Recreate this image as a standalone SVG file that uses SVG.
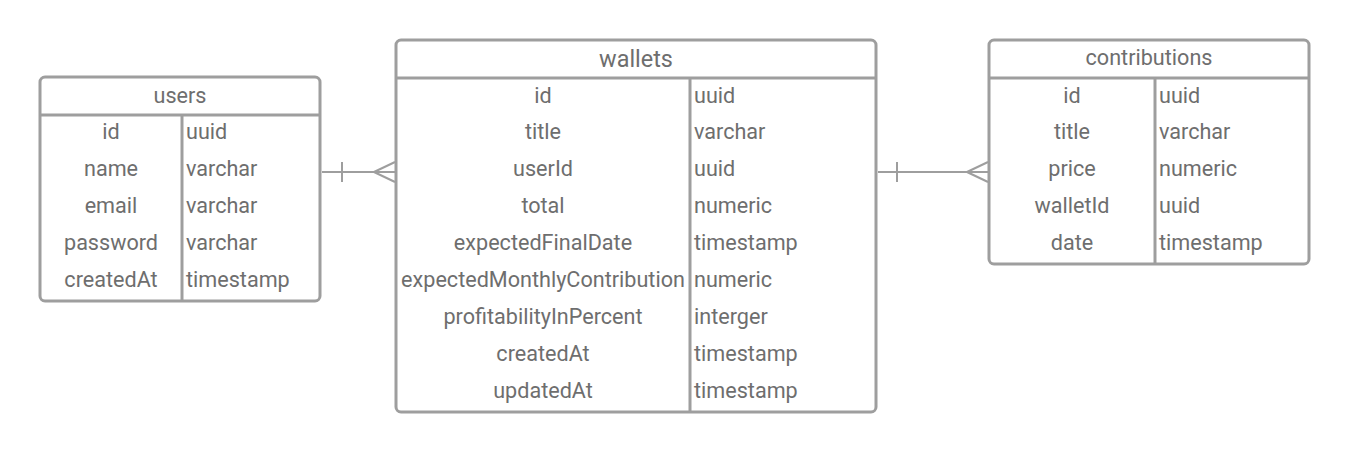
<svg xmlns="http://www.w3.org/2000/svg" width="1350" height="453" viewBox="0 0 1350 453">
<style>
.box{fill:#fff;stroke:#9e9e9e;stroke-width:3}
.ln{stroke:#9e9e9e;stroke-width:3;fill:none}
.cn{stroke:#9e9e9e;stroke-width:2;fill:none}
text{font-family:Roboto,"Liberation Sans",Arial,sans-serif;font-size:21.6px;fill:#6e6e6e;dominant-baseline:central}
.h{text-anchor:middle}
.k{text-anchor:middle}
</style>
<rect width="1350" height="453" fill="#fff"/>
<g id="users">
<rect class="box" x="40" y="77" width="280" height="224" rx="5"/>
<line class="ln" x1="40" y1="115" x2="320" y2="115"/>
<line class="ln" x1="182" y1="115" x2="182" y2="301"/>
<text class="h" x="180" y="95">users</text>
<text class="k" x="111" y="131">id</text><text x="186" y="131">uuid</text>
<text class="k" x="111" y="168">name</text><text x="186" y="168">varchar</text>
<text class="k" x="111" y="205">email</text><text x="186" y="205">varchar</text>
<text class="k" x="111" y="242">password</text><text x="186" y="242">varchar</text>
<text class="k" x="111" y="279">createdAt</text><text x="186" y="279">timestamp</text>
</g>
<g id="wallets">
<rect class="box" x="396" y="40" width="480" height="372" rx="5"/>
<line class="ln" x1="396" y1="78" x2="876" y2="78"/>
<line class="ln" x1="690" y1="78" x2="690" y2="412"/>
<text class="h" x="636" y="59" style="font-size:23.4px">wallets</text>
<text class="k" x="543" y="95">id</text><text x="694" y="95">uuid</text>
<text class="k" x="543" y="131">title</text><text x="694" y="131">varchar</text>
<text class="k" x="543" y="168">userId</text><text x="694" y="168">uuid</text>
<text class="k" x="543" y="205">total</text><text x="694" y="205">numeric</text>
<text class="k" x="543" y="242">expectedFinalDate</text><text x="694" y="242">timestamp</text>
<text class="k" x="543" y="279">expectedMonthlyContribution</text><text x="694" y="279">numeric</text>
<text class="k" x="543" y="316">profitabilityInPercent</text><text x="694" y="316">interger</text>
<text class="k" x="543" y="353">createdAt</text><text x="694" y="353">timestamp</text>
<text class="k" x="543" y="390">updatedAt</text><text x="694" y="390">timestamp</text>
</g>
<g id="contributions">
<rect class="box" x="989" y="40" width="320" height="224" rx="5"/>
<line class="ln" x1="989" y1="78" x2="1309" y2="78"/>
<line class="ln" x1="1155" y1="78" x2="1155" y2="264"/>
<text class="h" x="1149" y="57">contributions</text>
<text class="k" x="1072" y="95">id</text><text x="1159" y="95">uuid</text>
<text class="k" x="1072" y="131">title</text><text x="1159" y="131">varchar</text>
<text class="k" x="1072" y="168">price</text><text x="1159" y="168">numeric</text>
<text class="k" x="1072" y="205">walletId</text><text x="1159" y="205">uuid</text>
<text class="k" x="1072" y="242">date</text><text x="1159" y="242">timestamp</text>
</g>
<g id="connectors">
<path class="cn" d="M322 172H395M342 162V182M374 172L395 162M374 172L395 182"/>
<path class="cn" d="M878 172H988M897 162V182M967 172L988 162M967 172L988 182"/>
</g>
</svg>
